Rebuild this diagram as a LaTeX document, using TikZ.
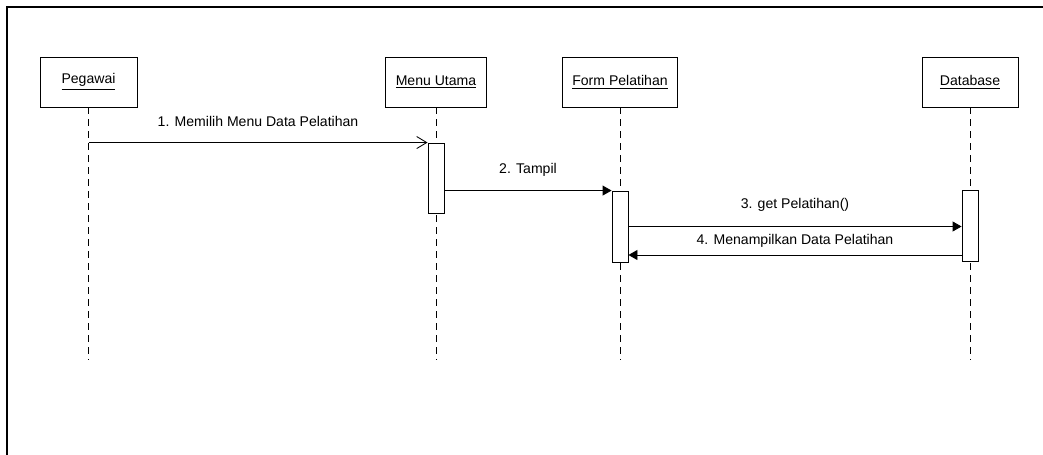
\documentclass[tikz,border=0pt]{standalone}
\usepackage{fontspec}
\setmainfont{Liberation Sans}
\usetikzlibrary{arrows.meta}

\begin{document}
\begin{tikzpicture}[
  >={Triangle[length=0.18cm,width=0.2cm]},
  font=\fontsize{8}{9.6}\selectfont,
  actor/.style={rectangle,draw,minimum height=1cm,inner sep=0pt},
  act/.style={rectangle,draw,fill=white,minimum width=0.32cm,inner sep=0pt},
  lifeline/.style={dash pattern=on 0.14cm off 0.1cm},
  msglabel/.style={midway,inner sep=0pt},
  every path/.style={line width=0.5pt}
]
\useasboundingbox (0,0) rectangle (20.86,-9.1);
\draw[line width=1.2pt] (0.14,-9.1) |- (20.86,-0.14);

\node[actor,minimum width=1.94cm] (peg) at (1.77,-1.64) {\underline{Pegawai}};
\node[actor,minimum width=2.02cm] (menu) at (8.72,-1.64) {\underline{Menu Utama}};
\node[actor,minimum width=2.30cm] (form) at (12.40,-1.64) {\underline{Form Pelatihan}};
\node[actor,minimum width=1.92cm] (db) at (19.40,-1.64) {\underline{Database}};

\coordinate (pegEnd) at (1.77,-7.2);
\coordinate (menuEnd) at (8.72,-7.2);
\coordinate (formEnd) at (12.40,-7.2);
\coordinate (dbEnd) at (19.40,-7.2);
\draw[lifeline] (peg) -- (pegEnd);
\draw[lifeline] (menu) -- (menuEnd);
\draw[lifeline] (form) -- (formEnd);
\draw[lifeline] (db) -- (dbEnd);

\node[act,minimum height=1.4cm] (actM) at (8.72,-3.56) {};
\node[act,minimum height=1.42cm] (actF) at (12.40,-4.53) {};
\node[act,minimum height=1.42cm] (actD) at (19.40,-4.51) {};

\draw[-{Straight Barb[length=0.2cm,width=0.24cm]}] (peg |- actM.north) -- (actM.north west)
  node[msglabel,yshift=0.42cm] {1. Memilih Menu Data Pelatihan};
\draw[->] (actM.east |- actF.north) -- (actF.north west)
  node[msglabel,yshift=0.42cm] {2. Tampil};
\draw[->] (actF.east) -- (actF.east -| actD.west)
  node[msglabel,yshift=0.44cm] {3. get Pelatihan()};
\draw[->] ([yshift=-0.59cm]actD.west) -- ([yshift=-0.59cm]actD.west -| actF.east)
  node[msglabel,yshift=0.28cm] {4. Menampilkan Data Pelatihan};
\end{tikzpicture}
\end{document}
